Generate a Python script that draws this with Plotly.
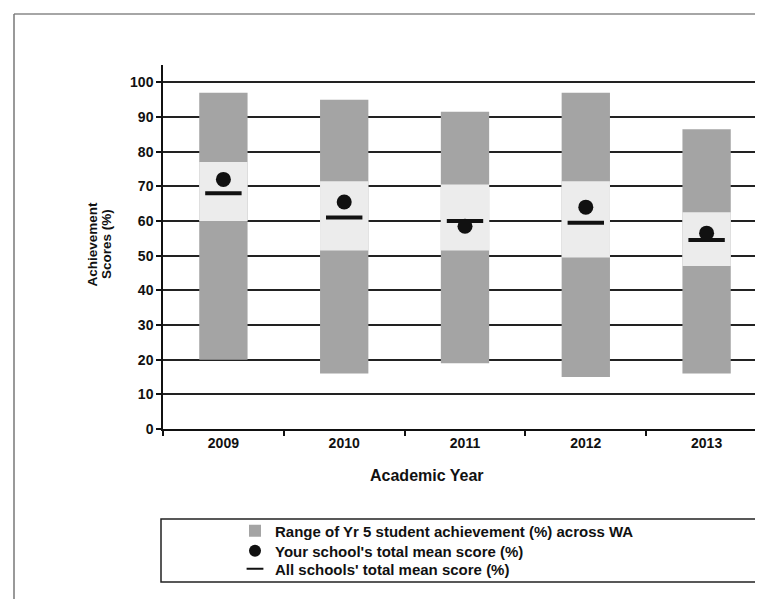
import plotly.graph_objects as go

years = ["2009", "2010", "2011", "2012", "2013"]
range_min = [20, 16, 19, 15, 16]
range_max = [97, 95, 91.5, 97, 86.5]
mid_low = [60, 51.5, 51.5, 49.5, 47]
mid_high = [77, 71.5, 70.5, 71.5, 62.5]
school_mean = [72, 65.5, 58.5, 64, 56.5]
all_mean = [68, 61, 60, 59.5, 54.5]

FONT = "Liberation Sans, Arial, sans-serif"

fig = go.Figure()
fig.add_trace(go.Bar(
    x=years, y=[hi - lo for lo, hi in zip(range_min, range_max)], base=range_min,
    width=0.4, marker=dict(color="#a4a4a4", line=dict(width=0)),
    name="Range of Yr 5 student achievement (%) across WA", legend="legend"))
fig.add_trace(go.Bar(
    x=years, y=[hi - lo for lo, hi in zip(mid_low, mid_high)], base=mid_low,
    width=0.4, marker=dict(color="#ececec", line=dict(width=0)),
    showlegend=False, hoverinfo="skip"))
fig.add_trace(go.Scatter(
    x=years, y=school_mean, mode="markers",
    marker=dict(symbol="circle", size=15, color="#111"),
    name="Your school's total mean score (%)", legend="legend2"))
fig.add_trace(go.Scatter(
    x=years, y=all_mean, mode="markers",
    marker=dict(symbol="line-ew", size=26, line=dict(width=4, color="#111")),
    name="All schools' total mean score (%)", legend="legend3"))

L, R, T, B = 155, 4, 57, 178
W, H = 763, 599
pw, ph = W - L - R, H - T - B

def px(x):
    return (x - L) / pw

def py(y):
    return (H - B - y) / ph

shapes = [
    dict(type="rect", xref="paper", yref="paper", x0=px(153), x1=px(749), y0=py(574), y1=py(511),
         line=dict(color="#222", width=1.5)),
    dict(type="line", xref="paper", yref="paper", x0=px(6), x1=px(770), y0=py(6), y1=py(6),
         line=dict(color="#888", width=1.5)),
    dict(type="line", xref="paper", yref="paper", x0=px(6), x1=px(6), y0=py(6), y1=py(610),
         line=dict(color="#777", width=1.5)),
]

annotations = [
    dict(text="<b>Academic Year</b>", xref="paper", yref="paper", x=px(419), y=py(467),
         xanchor="center", yanchor="middle", showarrow=False,
         font=dict(size=16, color="#111", family=FONT)),
    dict(text="<b>Achievement</b>", xref="paper", yref="paper", x=px(83.5), y=py(236),
         xanchor="center", yanchor="middle", textangle=-90, showarrow=False,
         font=dict(size=13.5, color="#111", family=FONT)),
    dict(text="<b>Scores (%)</b>", xref="paper", yref="paper", x=px(98), y=py(236),
         xanchor="center", yanchor="middle", textangle=-90, showarrow=False,
         font=dict(size=13.5, color="#111", family=FONT)),
]

leg_font = dict(size=15, family=FONT, color="#111", weight="bold")
def leg(ycenter):
    return dict(x=px(227), y=py(ycenter), xanchor="left", yanchor="middle",
                bgcolor="rgba(0,0,0,0)", borderwidth=0, font=leg_font,
                itemwidth=30, itemsizing="constant")

fig.update_layout(
    width=W, height=H, margin=dict(l=L, r=R, t=T, b=B),
    paper_bgcolor="white", plot_bgcolor="white",
    barmode="overlay",
    font=dict(family=FONT, color="#111", size=14),
    showlegend=True,
    legend=leg(523), legend2=leg(543), legend3=leg(561),
    shapes=shapes, annotations=annotations,
)
fig.update_xaxes(
    type="category", range=[-0.5, 4.5], showline=True, linecolor="#111", linewidth=1.5,
    ticks="outside", tickson="boundaries", ticklen=5, tickcolor="#111", tickwidth=1.5,
    showgrid=False, tickfont=dict(size=14, family=FONT, color="#111", weight="bold"),
    fixedrange=True,
)
fig.update_yaxes(
    range=[0, 105], tickvals=[0, 10, 20, 30, 40, 50, 60, 70, 80, 90, 100],
    showline=True, linecolor="#111", linewidth=1.5,
    ticks="outside", ticklen=5, tickcolor="#111", tickwidth=1.5,
    showgrid=True, gridcolor="#222", gridwidth=1.5, zeroline=False,
    tickfont=dict(size=14, family=FONT, color="#111", weight="bold"),
    layer="below traces", fixedrange=True,
)

fig.write_html("out.html")
